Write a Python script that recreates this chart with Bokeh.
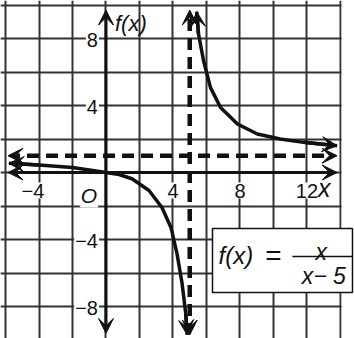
from bokeh.plotting import figure
from bokeh.models import (FixedTicker, Arrow, VeeHead, BoxAnnotation, Label, Range1d)
from bokeh.core.properties import value
from bokeh.embed import file_html
from bokeh.resources import INLINE

# ---- data ----
grid_x = [-6, -4, -2, 0, 2, 4, 6, 8, 10, 12, 14]
grid_y = [-10, -8, -6, -4, -2, 0, 2, 4, 6, 8, 10]
x_ticks = [-4, 4, 8, 12]
x_tick_labels = ["\u22124", "4", "8", "12"]
y_ticks = [8, 4, -4, -8]
y_tick_labels = ["8", "4", "\u22124", "\u22128"]

left_x = [-5.8, -4.0, -2.0, 0.0, 0.78, 1.55, 2.57, 3.34, 3.88, 4.24, 4.54, 4.76, 4.85]
left_y = [0.55, 0.45, 0.3, 0.0, -0.12, -0.37, -1.07, -2.09, -3.28, -4.84, -6.6, -8.4, -9.7]
right_x = [5.42, 5.52, 5.82, 6.24, 6.84, 7.85, 9.04, 10.4, 11.8, 13.8]
right_y = [9.6, 8.3, 6.7, 5.07, 3.88, 2.9, 2.3, 2.0, 1.8, 1.6]

asym_x = 5
asym_y = 1
x_extent = (-5.85, 13.8)
y_extent = (-9.7, 9.7)
x_max = 14

FONT = "Liberation Sans"
INK = "#111111"

p = figure(width=354, height=338, output_backend="svg", toolbar_location=None,
           x_range=Range1d(-6.30, 14.84), y_range=Range1d(-9.91, 10.27),
           min_border_left=0, min_border_right=0, min_border_top=0, min_border_bottom=0)
p.xaxis.visible = False
p.yaxis.visible = False
p.xgrid.ticker = FixedTicker(ticks=grid_x)
p.ygrid.ticker = FixedTicker(ticks=grid_y)
for g in (p.xgrid, p.ygrid):
    g.grid_line_color = "#333333"
    g.grid_line_width = 2
    g.grid_line_alpha = 1
p.outline_line_color = None
p.background_fill_color = "white"
p.border_fill_color = "white"

# white area right of the grid
p.add_layout(BoxAnnotation(left=x_max + 0.07, fill_color="white", fill_alpha=1,
                           line_color=None, level="glyph"))

# tick labels with white boxes
p.text(x=x_ticks, y=[0] * len(x_ticks), text=x_tick_labels, text_font=value(FONT),
       text_font_size="20px", text_align="center", text_baseline="top",
       y_offset=10, x_offset=[-6, 0, 0, 0], text_color=INK,
       background_fill_color="white", padding=1)
p.text(x=[0] * len(y_ticks), y=y_ticks, text=y_tick_labels, text_font=value(FONT),
       text_font_size="20px", text_align="right", text_baseline="middle",
       x_offset=-7, y_offset=1, text_color=INK, background_fill_color="white", padding=1)
p.text(x=[0], y=[0], text=["O"], text_font=value(FONT), text_font_style="italic",
       text_font_size="21px", text_align="center", text_baseline="top",
       x_offset=-17, y_offset=10, text_color=INK, background_fill_color="white", padding=1)

# curve branches
p.line(left_x, left_y, line_width=3.5, line_color=INK)
p.line(right_x, right_y, line_width=3.5, line_color=INK)

def head():
    return VeeHead(size=15, fill_color=INK, line_color=INK, line_width=1)

# asymptotes (dashed)
p.add_layout(Arrow(x_start=x_extent[0], y_start=asym_y, x_end=x_extent[1], y_end=asym_y,
                   start=head(), end=head(), line_width=4.5, line_dash="12 7", line_color=INK))
p.add_layout(Arrow(x_start=asym_x, y_start=y_extent[0], x_end=asym_x, y_end=y_extent[1],
                   start=head(), end=head(), line_width=4.5, line_dash="12 7", line_color=INK))

# axes with arrows
p.add_layout(Arrow(x_start=x_extent[0], y_start=0, x_end=x_extent[1], y_end=0,
                   start=head(), end=head(), line_width=3, line_color=INK))
p.add_layout(Arrow(x_start=0, y_start=-9.6, x_end=0, y_end=y_extent[1],
                   start=head(), end=head(), line_width=3, line_color=INK))

# curve end arrows
for xs, ys in ((left_x, left_y), (right_x, right_y)):
    p.add_layout(Arrow(x_start=xs[1], y_start=ys[1], x_end=xs[0], y_end=ys[0],
                       end=head(), line_width=3.5, line_color=INK))
    p.add_layout(Arrow(x_start=xs[-2], y_start=ys[-2], x_end=xs[-1], y_end=ys[-1],
                       end=head(), line_width=3.5, line_color=INK))

# axis names
p.add_layout(Label(x=12, y=0, text="x", text_font=FONT, text_font_style="italic",
                   text_font_size="25px", x_offset=11, y_offset=-29, text_color=INK))
p.add_layout(Label(x=0, y=y_extent[1], text="f(x)", text_font=FONT, text_font_style="italic",
                   text_font_size="22px", x_offset=9, y_offset=-26, text_color=INK))

# formula box
p.add_layout(BoxAnnotation(left=6.36, right=14.72, top=-3.34, bottom=-7.16,
                           fill_color="white", fill_alpha=1, line_color=INK, line_width=1.5,
                           line_alpha=1, level="annotation"))
p.add_layout(Label(x=6.72, y=-4.95, text="f(x)", text_font=FONT, text_font_style="italic",
                   text_font_size="24px", text_baseline="middle", text_color=INK))
p.add_layout(Label(x=10.0, y=-4.95, text="=", text_font=FONT,
                   text_font_size="28px", text_align="center", text_baseline="middle",
                   text_color=INK))
p.add_layout(Label(x=12.85, y=-4.75, text="x", text_font=FONT, text_font_style="italic",
                   text_font_size="23px", text_align="center", text_baseline="alphabetic",
                   text_color=INK))
p.add_layout(Arrow(x_start=11.13, y_start=-5.01, x_end=14.72, y_end=-5.01, end=None,
                   line_width=1.5, line_color=INK))
p.add_layout(Label(x=13.0, y=-6.2, text="x\u2212 5", text_font=FONT, text_font_style="italic",
                   text_font_size="23px", text_align="center", text_baseline="alphabetic",
                   text_color=INK))

open("out.html", "w").write(file_html(p, INLINE))
